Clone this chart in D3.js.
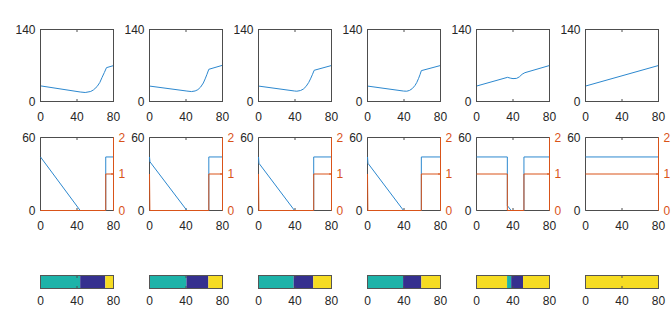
<!DOCTYPE html>
<html><head><meta charset="utf-8">
<script src="https://cdn.jsdelivr.net/npm/d3@7"></script>
<style>html,body{margin:0;padding:0;background:#fff;}svg{display:block;font-family:"Liberation Sans",Arial,sans-serif;}</style>
</head><body>
<svg id="c" width="672" height="316"></svg>
<script>
// ---- data ----
const xTicks = [0, 40, 80];
const topYTicks = [0, 140];
const midLeftTicks = [0, 60];
const midRightTicks = [0, 1, 2];

// top row: blue curve, [t, value]
const top1 = [[0,30.4],[43.5,18.5],[49,17.5],[55,19.5],[58,22.5],[62,29],[65,37],[67.5,47],[70,56.5],[72.3,65.8],[80,69.8]];
const top2 = [[0,0],[0,30],[41,20.3],[46,19.3],[50,20.5],[53,23],[56,28],[59,36],[61,44],[63,53],[65,62.6],[80,70.4]];
const top3 = [[0,0],[0,30],[39.5,20.4],[42,20],[46,21.3],[49,24],[52,29],[55,37],[57,44],[59,52],[61,60.7],[80,70]];
const top4 = [[0,0],[0,30],[39.5,20.3],[43,20],[46,21.5],[49,25],[52,31],[54,37],[56,45],[57.5,52],[59,60],[80,70]];
const top5 = [[0,0],[0,30],[34,47],[37,45.5],[40,44.5],[44,45],[47,48],[50,53],[53,56],[80,70]];
const top6 = [[0,30],[80,70]];
const topSeries = [top1, top2, top3, top4, top5, top6];

// middle row: blue on left axis (0-60), orange on right axis (0-2)
const blue1 = [[0,44],[43.5,0],[71.5,0],[71.5,44],[80,44]];
const blue2 = [[0,44],[0.5,40],[41,0],[65,0],[65,44],[80,44]];
const blue3 = [[0,44],[0.5,38.8],[39.5,0],[60.5,0],[60.5,44],[80,44]];
const blue4 = [[0,44],[0.5,38.8],[39.5,0],[59,0],[59,44],[80,44]];
const blue5 = [[0,44],[33.8,44],[33.8,4],[38,0],[52,0],[52,44],[80,44]];
const blue6 = [[0,44],[80,44]];
const blueSeries = [blue1, blue2, blue3, blue4, blue5, blue6];

const orange1 = [[0,0],[71.5,0],[71.5,1],[80,1]];
const orange2 = [[0,1],[0.4,0],[65,0],[65,1],[80,1]];
const orange3 = [[0,1],[0.4,0],[60.5,0],[60.5,1],[80,1]];
const orange4 = [[0,1],[0.4,0],[59,0],[59,1],[80,1]];
const orange5 = [[0,1],[33.8,1],[33.8,0],[52,0],[52,1],[80,1]];
const orange6 = [[0,1],[80,1]];
const orangeSeries = [orange1, orange2, orange3, orange4, orange5, orange6];

// bottom row: state segments [start, end, state]
const bar1 = [[0,43.5,1],[43.5,71,2],[71,80,3]];
const bar2 = [[0,40.5,1],[40.5,64.5,2],[64.5,80,3]];
const bar3 = [[0,38.5,1],[38.5,60,2],[60,80,3]];
const bar4 = [[0,39,1],[39,59,2],[59,80,3]];
const bar5 = [[0,33.5,3],[33.5,38,1],[38,51,2],[51,80,3]];
const bar6 = [[0,80,3]];
const barSeries = [bar1, bar2, bar3, bar4, bar5, bar6];
const stateColors = {1: "#1db3a9", 2: "#35308f", 3: "#f6dc22"};

// ---- layout ----
const svg = d3.select("#c");
const axisCol = "#4d4d4d", textCol = "#262626";
const blueCol = "#2c88cf", orangeCol = "#d95319";
const panelLeft0 = 40.5, panelStep = 109, panelW = 73;
const topRow = {y0: 29.5, y1: 101.5};
const midRow = {y0: 137.5, y1: 210.5};
const barRow = {y0: 275.5, y1: 288.5};
const fs = 12, tickLen = 2.5;

function xLabels(g, x, yBase, col) {
  g.selectAll(null).data(xTicks).enter().append("text")
    .attr("x", d => x(d)).attr("y", yBase).attr("text-anchor", "middle")
    .attr("font-size", fs).attr("fill", col || textCol).text(d => d);
}
function hTicks(g, x, y0, y1) {
  xTicks.forEach(t => {
    g.append("line").attr("x1", x(t)).attr("x2", x(t)).attr("y1", y1).attr("y2", y1 - tickLen).attr("stroke", axisCol);
    g.append("line").attr("x1", x(t)).attr("x2", x(t)).attr("y1", y0).attr("y2", y0 + tickLen).attr("stroke", axisCol);
  });
}

for (let i = 0; i < 6; i++) {
  const L = panelLeft0 + i * panelStep, R = L + panelW;
  const x = d3.scaleLinear().domain([0, 80]).range([L, R]);

  // ---- top row ----
  {
    const g = svg.append("g");
    const y = d3.scaleLinear().domain([0, 140]).range([topRow.y1, topRow.y0]);
    hTicks(g, x, topRow.y0, topRow.y1);
    const line = d3.line().x(d => x(d[0])).y(d => y(d[1]));
    g.append("path").datum(topSeries[i]).attr("d", line).attr("fill", "none").attr("stroke", blueCol).attr("stroke-width", 1);
    g.append("rect").attr("x", L).attr("y", topRow.y0).attr("width", panelW).attr("height", topRow.y1 - topRow.y0)
      .attr("fill", "none").attr("stroke", axisCol).attr("stroke-width", 1);
    g.selectAll(null).data(topYTicks).enter().append("text")
      .attr("x", L - 5).attr("y", d => y(d)).attr("dy", "0.36em").attr("text-anchor", "end")
      .attr("font-size", fs).attr("fill", textCol).text(d => d);
    xLabels(g, x, topRow.y1 + 19);
  }

  // ---- middle row ----
  {
    const g = svg.append("g");
    const yl = d3.scaleLinear().domain([0, 60]).range([midRow.y1, midRow.y0]);
    const yr = d3.scaleLinear().domain([0, 2]).range([midRow.y1, midRow.y0]);
    hTicks(g, x, midRow.y0, midRow.y1);
    midRightTicks.forEach(t => g.append("line").attr("x1", R).attr("x2", R - tickLen).attr("y1", yr(t)).attr("y2", yr(t)).attr("stroke", orangeCol));
    // box: top, left, bottom gray
    g.append("path").attr("d", `M${R},${midRow.y0}H${L}V${midRow.y1}H${R}`).attr("fill", "none").attr("stroke", axisCol);
    const lineL = d3.line().x(d => x(d[0])).y(d => yl(d[1]));
    const lineR = d3.line().x(d => x(d[0])).y(d => yr(d[1]));
    g.append("path").datum(blueSeries[i]).attr("d", lineL).attr("fill", "none").attr("stroke", blueCol).attr("stroke-width", 1);
    g.append("path").datum(orangeSeries[i]).attr("d", lineR).attr("fill", "none").attr("stroke", orangeCol).attr("stroke-width", 1);
    g.append("line").attr("x1", R).attr("x2", R).attr("y1", midRow.y0).attr("y2", midRow.y1).attr("stroke", orangeCol);
    g.selectAll(null).data(midLeftTicks).enter().append("text")
      .attr("x", L - 5).attr("y", d => yl(d)).attr("dy", "0.36em").attr("text-anchor", "end")
      .attr("font-size", fs).attr("fill", textCol).text(d => d);
    g.selectAll(null).data(midRightTicks).enter().append("text")
      .attr("x", R + 5).attr("y", d => yr(d)).attr("dy", "0.36em").attr("text-anchor", "start")
      .attr("font-size", fs).attr("fill", orangeCol).text(d => d);
    xLabels(g, x, midRow.y1 + 19);
  }

  // ---- bottom bar ----
  {
    const g = svg.append("g");
    g.selectAll(null).data(barSeries[i]).enter().append("rect")
      .attr("x", d => x(d[0])).attr("width", d => x(d[1]) - x(d[0]))
      .attr("y", barRow.y0).attr("height", barRow.y1 - barRow.y0)
      .attr("fill", d => stateColors[d[2]]);
    hTicks(g, x, barRow.y0, barRow.y1);
    g.append("rect").attr("x", L).attr("y", barRow.y0).attr("width", panelW).attr("height", barRow.y1 - barRow.y0)
      .attr("fill", "none").attr("stroke", "#555").attr("stroke-width", 1);
    xLabels(g, x, barRow.y1 + 16);
  }
}
</script>
</body></html>
